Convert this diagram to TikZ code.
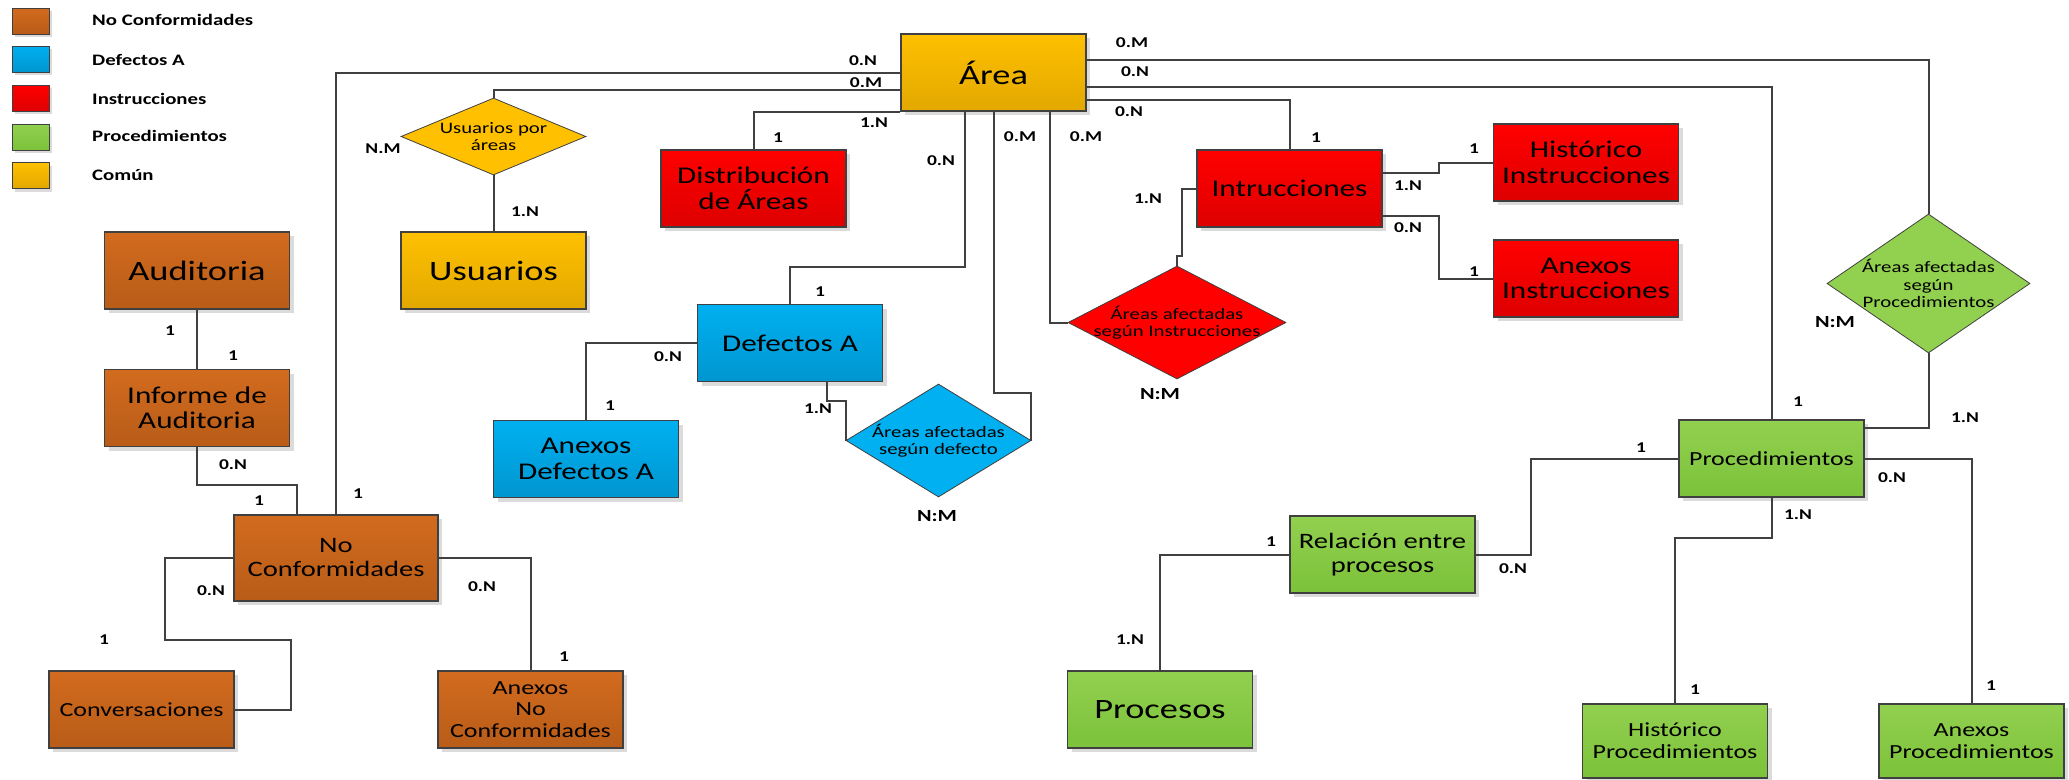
\documentclass[tikz,border=0pt]{standalone}
\usepackage{fontspec}
\setmainfont{Carlito}[FakeStretch=1.3]
\usepackage{xcolor}
\usetikzlibrary{shapes.geometric}
\usetikzlibrary{shadows}

\definecolor{lineGray}{RGB}{64,64,64}
\definecolor{ncTop}{RGB}{210,107,30}
\definecolor{ncBot}{RGB}{184,92,24}
\definecolor{dfTop}{RGB}{0,176,240}
\definecolor{dfBot}{RGB}{0,150,208}
\definecolor{inTop}{RGB}{255,0,0}
\definecolor{inBot}{RGB}{222,0,0}
\definecolor{prTop}{RGB}{146,208,80}
\definecolor{prBot}{RGB}{124,194,58}
\definecolor{coTop}{RGB}{255,192,0}
\definecolor{coBot}{RGB}{226,168,0}

\begin{document}
\begin{tikzpicture}[x=1pt, y=-1pt,
  box/.style={draw=lineGray, line width=1.2pt, inner sep=0pt, align=center},
  shd/.style={general shadow={fill=black!14, shadow xshift=#1, shadow yshift=-#1}},
  shd/.default=4pt,
  ent/.style={box, shd, minimum width=185pt, minimum height=77pt},
  nc/.style={top color=ncTop, bottom color=ncBot},
  dfa/.style={top color=dfTop, bottom color=dfBot},
  ins/.style={top color=inTop, bottom color=inBot},
  pro/.style={top color=prTop, bottom color=prBot},
  com/.style={top color=coTop, bottom color=coBot},
  swatch/.style={box, shd=3pt, line width=0.8pt, minimum width=37pt, minimum height=26pt},
  leg/.style={font=\bfseries\fontsize{16}{16}\selectfont, anchor=west, inner sep=0pt},
  rel/.style={diamond, draw=lineGray, line width=0.8pt, inner sep=0pt},
  dtxt/.style={font=\fontsize{16}{17.5}\selectfont, align=center, inner sep=0pt},
  card/.style={font=\bfseries\fontsize{15}{15}\selectfont, inner sep=0pt},
  nm/.style={font=\bfseries\fontsize{17}{17}\selectfont, inner sep=0pt},
  conn/.style={draw=lineGray, line width=2pt}
]
\def\szA{\fontsize{28}{30}\selectfont}
\def\szB{\fontsize{24}{25.5}\selectfont}
\def\szC{\fontsize{22}{24}\selectfont}
\def\szD{\fontsize{20}{21.7}\selectfont}
\useasboundingbox (0,0) rectangle (2069,779);

% leyenda
\node [swatch, nc,  name=sw1] at (30.5,21) {};
\node [swatch, dfa, name=sw2] at (30.5,59) {};
\node [swatch, ins, name=sw3] at (30.5,98) {};
\node [swatch, pro, name=sw4] at (30.5,137) {};
\node [swatch, com, name=sw5] at (30.5,175.5) {};
\node [leg, name=lg1] at (92,20)  {No Conformidades};
\node [leg, name=lg2] at (92,60)  {Defectos A};
\node [leg, name=lg3] at (92,99)  {Instrucciones};
\node [leg, name=lg4] at (92,136) {Procedimientos};
\node [leg, name=lg5] at (92,175) {Común};

% entidades
\node [ent, com, font=\szA, name=area]     at (993.5,72.5)  {Área};
\node [ent, ins, font=\szB, name=distrib]  at (753.5,188.5) {Distribución\\de Áreas};
\node [ent, com, font=\szA, name=usuarios] at (493.5,270.5) {Usuarios};
\node [ent, nc,  font=\szA, name=audit]    at (197,270.5)   {Auditoria};
\node [ent, nc,  font=\szB, name=informe]  at (197,408)     {Informe de\\Auditoria};
\node [ent, nc,  font=\szC, minimum width=204pt, minimum height=86pt, name=noconf] at (336,558) {No\\Conformidades};
\node [ent, nc,  font=\szD, name=conv]     at (141.5,709.5) {Conversaciones};
\node [ent, nc,  font=\szD, name=anxnc]    at (530.5,709.5) {Anexos\\No\\Conformidades};
\node [ent, dfa, font=\szB, name=defa]     at (790,343)     {Defectos A};
\node [ent, dfa, font=\szB, name=anxdef]   at (586,459)     {Anexos\\Defectos A};
\node [ent, ins, font=\szB, name=instr]    at (1289.5,188.5) {Intrucciones};
\node [ent, ins, font=\szB, name=histins]  at (1586,162.5)  {Histórico\\Instrucciones};
\node [ent, ins, font=\szB, name=anxins]   at (1586,278.5)  {Anexos\\Instrucciones};
\node [ent, pro, font=\szD, name=proc]     at (1771.5,458.5) {Procedimientos};
\node [ent, pro, font=\szC, name=relproc]  at (1382.5,554.5) {Relación entre\\procesos};
\node [ent, pro, font=\szA, name=procesos] at (1160,709.5)  {Procesos};
\node [ent, pro, font=\szD, minimum height=74pt, name=histproc] at (1675,741)   {Histórico\\Procedimientos};
\node [ent, pro, font=\szD, minimum height=74pt, name=anxproc]  at (1971.5,741) {Anexos\\Procedimientos};

% relaciones
\node [rel, fill=coTop, minimum width=185pt, minimum height=77pt, name=usrel,
  label={[dtxt]center:{Usuarios por\\áreas}}] at (493.5,136.5) {};
\node [rel, fill=inTop, minimum width=218pt, minimum height=113pt, name=insrel,
  label={[dtxt]center:{Áreas afectadas\\según Instrucciones}}] at (1177,322.5) {};
\node [rel, fill=dfTop, minimum width=185pt, minimum height=113pt, name=defrel,
  label={[dtxt]center:{Áreas afectadas\\según defecto}}] at (938.5,440.5) {};
\node [rel, fill=prTop, minimum width=203pt, minimum height=139pt, name=procrel,
  label={[dtxt]center:{Áreas afectadas\\según\\Procedimientos}}] at (1928.5,283.5) {};

% conexiones
\draw [conn] (area.west) -| (noconf.north);
\draw [conn] ([yshift=-17pt]area.west) -| (usrel.north);
\draw [conn] (usrel.south) -- (usuarios.north);
\draw [conn] (area.south west) -| (distrib.north);
\draw [conn] ([xshift=-29pt]area.south) -- ++(0,155) -| (defa.north);
\draw [conn] (area.south) -- ++(0,281) -| (defrel.east);
\draw [conn] ([xshift=56pt]area.south) |- (insrel.west);
\draw [conn] ([yshift=-27pt]area.east) -| (instr.north);
\draw [conn] ([yshift=-14pt]area.east) -| (proc.north);
\draw [conn] ([yshift=13pt]area.east) -| (procrel.north);
\draw [conn] (instr.west) -- ++(-14,0) |- ([yshift=10pt]insrel.north) -- (insrel.north);
\draw [conn] ([yshift=16pt]instr.east) -- ++(56,0) |- (histins.west);
\draw [conn] ([yshift=-27pt]instr.east) -- ++(56,0) |- (anxins.west);
\draw [conn] (defa.west) -| (anxdef.north);
\draw [conn] ([xshift=37pt]defa.south) -- ++(0,19) -| (defrel.west);
\draw [conn] (audit.south) -- (informe.north);
\draw [conn] (informe.south) -- ++(0,38) -| ([xshift=-39pt]noconf.north);
\draw [conn] (noconf.west) -- ++(-68,0) -- ++(0,82) -| ([xshift=56pt]conv.east) -- (conv.east);
\draw [conn] (noconf.east) -| (anxnc.north);
\draw [conn] (relproc.west) -| (procesos.north);
\draw [conn] (relproc.east) -- ++(55,0) |- (proc.west);
\draw [conn] ([yshift=31pt]proc.east) -| (procrel.south);
\draw [conn] (proc.east) -| (anxproc.north);
\draw [conn] (proc.south) -- ++(0,40) -| (histproc.north);

% cardinalidades
\node [card, name=k1]  at (863,61)   {0.N};
\node [card, name=k2]  at (866,83)   {0.M};
\node [card, name=k3]  at (383,149)  {N.M};
\node [card, name=k4]  at (525,212)  {1.N};
\node [card, name=k5]  at (874,123)  {1.N};
\node [card, name=k6]  at (778,138)  {1};
\node [card, name=k7]  at (941,161)  {0.N};
\node [card, name=k8]  at (1020,137) {0.M};
\node [card, name=k9]  at (1086,137) {0.M};
\node [card, name=k10] at (1132,43)  {0.M};
\node [card, name=k11] at (1135,72)  {0.N};
\node [card, name=k12] at (1129,112) {0.N};
\node [card, name=k13] at (1316,138) {1};
\node [card, name=k14] at (1148,199) {1.N};
\node [card, name=k15] at (1474,149) {1};
\node [card, name=k16] at (1408,186) {1.N};
\node [card, name=k17] at (1408,228) {0.N};
\node [card, name=k18] at (1474,272) {1};
\node [nm,   name=k19] at (1160,394) {N:M};
\node [card, name=k20] at (820,292)  {1};
\node [card, name=k21] at (818,409)  {1.N};
\node [nm,   name=k22] at (937,516)  {N:M};
\node [card, name=k23] at (668,357)  {0.N};
\node [card, name=k24] at (610,406)  {1};
\node [card, name=k25] at (170,331)  {1};
\node [card, name=k26] at (233,356)  {1};
\node [card, name=k27] at (233,465)  {0.N};
\node [card, name=k28] at (259,501)  {1};
\node [card, name=k29] at (358,494)  {1};
\node [card, name=k30] at (211,591)  {0.N};
\node [card, name=k31] at (104,640)  {1};
\node [card, name=k32] at (482,587)  {0.N};
\node [card, name=k33] at (564,657)  {1};
\node [card, name=k34] at (1271,542) {1};
\node [card, name=k35] at (1130,640) {1.N};
\node [card, name=k36] at (1513,569) {0.N};
\node [card, name=k37] at (1641,448) {1};
\node [card, name=k38] at (1798,402) {1};
\node [card, name=k39] at (1965,418) {1.N};
\node [nm,   name=k40] at (1835,322) {N:M};
\node [card, name=k41] at (1892,478) {0.N};
\node [card, name=k42] at (1798,515) {1.N};
\node [card, name=k43] at (1695,690) {1};
\node [card, name=k44] at (1991,686) {1};
\end{tikzpicture}
\end{document}
